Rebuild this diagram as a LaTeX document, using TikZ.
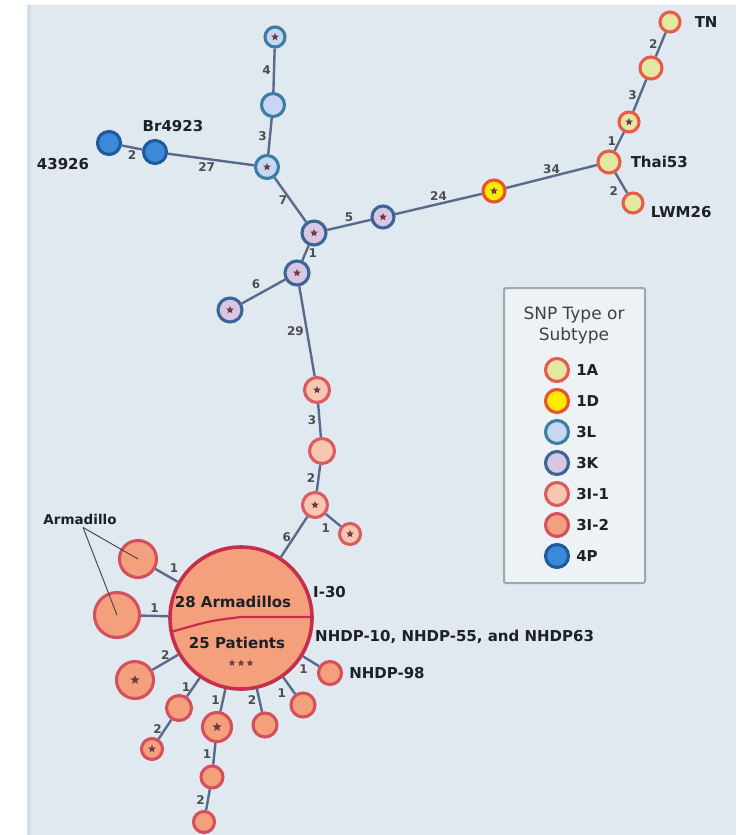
\documentclass[tikz,border=0pt]{standalone}
\usepackage{fontspec}
\setmainfont{DejaVu Sans}
\usetikzlibrary{calc, positioning, shapes.geometric}
\definecolor{bgpan}{HTML}{E0E9EF}
\definecolor{bgedge}{HTML}{D3DEE6}
\definecolor{edgec}{HTML}{596A8B}
\definecolor{lblc}{HTML}{4A4E53}
\definecolor{txtc}{HTML}{1D2024}
\definecolor{rimA}{HTML}{E85B4B}\definecolor{inA}{HTML}{E4E7A2}
\definecolor{rimD}{HTML}{E9522C}\definecolor{inD}{HTML}{FFEA05}
\definecolor{rimL}{HTML}{3B7EA4}\definecolor{inL}{HTML}{C8D7F1}
\definecolor{rimK}{HTML}{3A6595}\definecolor{inK}{HTML}{D8C6E2}
\definecolor{rimI}{HTML}{DB5B63}\definecolor{inI}{HTML}{F8C7B1}
\definecolor{rimJ}{HTML}{D54F5D}\definecolor{inJ}{HTML}{F5A07D}
\definecolor{rimP}{HTML}{1F5A9B}\definecolor{inP}{HTML}{3B8ADA}
\definecolor{bigrim}{HTML}{C62F4B}
\definecolor{starc}{HTML}{6E3A46}
\definecolor{legfill}{HTML}{EDF2F5}
\definecolor{legrim}{HTML}{9EA7B0}
\tikzset{
  snp/.style={circle, inner sep=0pt, line width=3.1pt},
  sz/.style={minimum size=#1},
  tA/.style={snp, draw=rimA, fill=inA},
  tD/.style={snp, draw=rimD, fill=inD},
  tL/.style={snp, draw=rimL, fill=inL},
  tK/.style={snp, draw=rimK, fill=inK},
  tI/.style={snp, draw=rimI, fill=inI},
  tJ/.style={snp, draw=rimJ, fill=inJ},
  tP/.style={snp, draw=rimP, fill=inP},
  starmk/.style={star, star points=5, star point ratio=2.2, fill=starc, inner sep=0pt, minimum size=#1},
  starmk/.default=8pt,
  lnk/.style={edgec, line width=2.4pt},
  lbl/.style={font=\bfseries\fontsize{12}{12}\selectfont, text=lblc, inner sep=2pt},
  nm/.style={font=\bfseries\fontsize{15}{15}\selectfont, text=txtc, inner sep=0pt},
}

\begin{document}
\begin{tikzpicture}[x=1pt, y=-1pt]
  \useasboundingbox (0,0) rectangle (736,835);
  \fill[bgpan] (27,5) rectangle (736,835);
  \fill[bgedge] (27,5) rectangle (31,835);

  % 3L / 4P arm
  \node[tL, sz=20pt] (a1) at (275,37) {};
  \node[tL, sz=23pt] (a2) at (273,105) {};
  \node[tL, sz=23pt] (a3) at (267,167) {};
  \node[tP, sz=23pt] (bl1) at (109,143) {};
  \node[tP, sz=23pt] (bl2) at (155,152) {};
  % 3K core
  \node[tK, sz=24pt] (d) at (314,233) {};
  \node[tK, sz=22pt] (k1) at (383,217) {};
  \node[tK, sz=24pt] (e) at (297,273) {};
  \node[tK, sz=24pt] (f) at (230,310) {};
  % 1D / 1A arm
  \node[tD, sz=22pt] (y) at (494,191) {};
  \node[tA, sz=22pt] (thai) at (609,162) {};
  \node[tA, sz=20pt] (lwm) at (633,203) {};
  \node[tA, sz=20pt] (s1) at (629,122) {};
  \node[tA, sz=22pt] (s2) at (651,68) {};
  \node[tA, sz=20pt] (tn) at (670,22) {};
  % 3I-1 chain
  \node[tI, sz=25pt] (g) at (317,390) {};
  \node[tI, sz=25pt] (h) at (322,451) {};
  \node[tI, sz=25pt] (i) at (315,505) {};
  \node[tI, sz=21pt] (j) at (350,534) {};
  % 3I-2 cluster
  \node[tJ, draw=bigrim, line width=3.6pt, sz=142pt] (hub) at (241,618) {};
  \node[tJ, sz=37pt] (arm1) at (138,559) {};
  \node[tJ, sz=45pt] (arm2) at (117,615) {};
  \node[tJ, sz=37pt] (l1) at (135,680) {};
  \node[tJ, sz=25pt] (m1) at (179,708) {};
  \node[tJ, sz=21pt] (m2) at (152,749) {};
  \node[tJ, sz=29pt] (n1) at (217,727) {};
  \node[tJ, sz=22pt] (n2) at (212,777) {};
  \node[tJ, sz=21pt] (n3) at (204,822) {};
  \node[tJ, sz=24pt] (o) at (265,725) {};
  \node[tJ, sz=24pt] (p) at (303,705) {};
  \node[tJ, sz=23pt] (q) at (330,673) {};

  \foreach \n in {a1,a3,d,k1,e,f,y,s1,g,i,j,m2}{\node[starmk] at (\n) {};}
  \foreach \n in {l1,n1}{\node[starmk=9.5pt] at (\n) {};}

  \draw[bigrim, line width=2.2pt] ($(hub)+(-70,14)$) .. controls ($(hub)+(-32,3)$) .. ($(hub)+(0,-1)$) -- ($(hub)+(72,-1)$);
  \node[nm] at ($(hub)+(-8,-16)$) {28 Armadillos};
  \node[nm] at ($(hub)+(-4,25)$) {25 Patients};
  \foreach \dx in {-9,0,9}{\node[starmk=7pt] at ($(hub)+(\dx,45)$) {};}

  \draw[lnk] (a1) -- node[lbl,left]{4} (a2);
  \draw[lnk] (a2) -- node[lbl,left]{3} (a3);
  \draw[lnk] (bl1) -- node[lbl,below]{2} (bl2);
  \draw[lnk] (bl2) -- node[lbl,below,pos=0.45]{27} (a3);
  \draw[lnk] (a3) -- node[lbl,left]{7} (d);
  \draw[lnk] (d) -- node[lbl,above]{5} (k1);
  \draw[lnk] (k1) -- node[lbl,above]{24} (y);
  \draw[lnk] (y) -- node[lbl,above]{34} (thai);
  \draw[lnk] (thai) -- node[lbl,below left]{2} (lwm);
  \draw[lnk] (thai) -- node[lbl,left]{1} (s1);
  \draw[lnk] (s1) -- node[lbl,left]{3} (s2);
  \draw[lnk] (s2) -- node[lbl,left]{2} (tn);
  \draw[lnk] (d) -- node[lbl,right]{1} (e);
  \draw[lnk] (e) -- node[lbl,above left]{6} (f);
  \draw[lnk] (e) -- node[lbl,left]{29} (g);
  \draw[lnk] (g) -- node[lbl,left]{3} (h);
  \draw[lnk] (h) -- node[lbl,left]{2} (i);
  \draw[lnk] (i) -- node[lbl,below left]{1} (j);
  \draw[lnk] (i) -- node[lbl,left]{6} (hub);
  \draw[lnk] (arm1) -- node[lbl,above right]{1} (hub);
  \draw[lnk] (arm2) -- node[lbl,above]{1} (hub);
  \draw[lnk] (l1) -- node[lbl,above]{2} (hub);
  \draw[lnk] (m1) -- node[lbl,left]{1} (hub);
  \draw[lnk] (m1) -- node[lbl,left]{2} (m2);
  \draw[lnk] (n1) -- node[lbl,left]{1} (hub);
  \draw[lnk] (n1) -- node[lbl,left]{1} (n2);
  \draw[lnk] (n2) -- node[lbl,left]{2} (n3);
  \draw[lnk] (o) -- node[lbl,left]{2} (hub);
  \draw[lnk] (p) -- node[lbl,below left]{1} (hub);
  \draw[lnk] (q) -- node[lbl,below left]{1} (hub);

  \node[nm] at (173,126) {Br4923};
  \node[nm] at (63,164) {43926};
  \node[nm, right=13pt of tn] {TN};
  \node[nm, right=9pt of thai] {Thai53};
  \node[nm, right=6pt of lwm, yshift=-9pt] {LWM26};
  \node[nm, anchor=west] at (313,592) {I-30};
  \node[nm, anchor=west] at (315,637) {NHDP-10, NHDP-55, and NHDP63};
  \node[nm, right=6pt of q] {NHDP-98};
  \node[nm, font=\bfseries\fontsize{13.5}{13.5}\selectfont] (arm) at (80,519) {Armadillo};
  \coordinate (armv) at ($(arm.south)+(3,3)$);
  \draw[txtc!80, line width=1pt] (armv) -- (arm1.center);
  \draw[txtc!80, line width=1pt] (armv) -- (arm2.center);

  % legend
  \draw[legrim, fill=legfill, line width=2pt, rounded corners=2pt] (504,288) rectangle (645,583);
  \node[text=txtc!85, font=\fontsize{17}{21}\selectfont, align=center] at (574,325) {SNP Type or\\Subtype};
  \foreach \s/\t [count=\k] in {tA/1A,tD/1D,tL/3L,tK/3K,tI/3I-1,tJ/3I-2,tP/4P}{
    \node[\s, sz=23pt] (leg\k) at (557,{370+31*(\k-1)}) {};
    \node[nm, right=6pt of leg\k] {\t};}
\end{tikzpicture}
\end{document}
